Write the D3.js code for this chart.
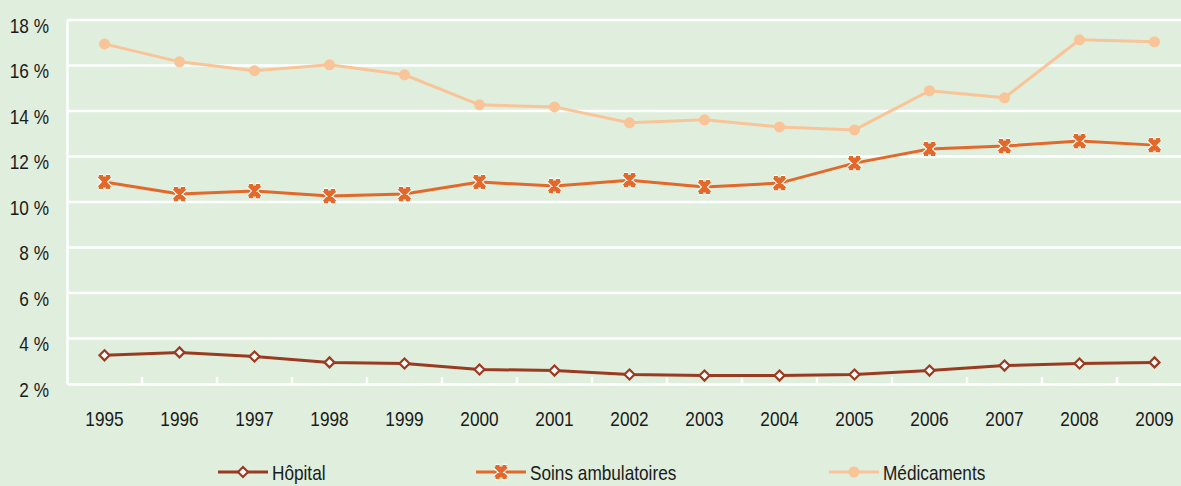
<!DOCTYPE html>
<html><head><meta charset="utf-8">
<script src="https://cdn.jsdelivr.net/npm/d3@7"></script>
<style>
body{margin:0;background:#dfeedd;overflow:hidden}
text{font-family:"Liberation Sans",Arial,sans-serif;fill:#1a1a1a}
</style></head><body>
<svg id="c" width="1181" height="486"></svg>
<script>
const years = ["1995","1996","1997","1998","1999","2000","2001","2002","2003","2004","2005","2006","2007","2008","2009"];
const hopital = [3.26,3.39,3.21,2.95,2.9,2.64,2.59,2.42,2.37,2.37,2.42,2.59,2.81,2.9,2.95];
const soins = [10.88,10.35,10.48,10.26,10.35,10.88,10.7,10.96,10.66,10.83,11.71,12.33,12.46,12.68,12.5];
const medicaments = [16.95,16.16,15.77,16.03,15.59,14.27,14.18,13.48,13.61,13.3,13.17,14.89,14.58,17.13,17.04];
const yTicks = [2,4,6,8,10,12,14,16,18];
const seriesNames = ["Hôpital","Soins ambulatoires","Médicaments"];

(function(){
const SX = 0.82, FS = 21;
const svg = d3.select("#c");
svg.append("rect").attr("width",1181).attr("height",486).attr("fill","#dfeedd");
const pl=67, pr=1192, pt=20, pb=384;
const x = d3.scaleBand().domain(years).range([pl,pr]);
const y = d3.scaleLinear().domain([2,18]).range([pb,pt]);

function condense(sel){
  sel.each(function(){
    const t=d3.select(this);
    const xv=+(t.attr("x")||0);
    t.attr("x",xv/SX).attr("transform",`scale(${SX},1)`).attr("font-size",FS).attr("fill","#1a1a1a");
  });
}

svg.append("g").selectAll("line").data(yTicks.slice(1)).join("line")
  .attr("x1",pl).attr("x2",pr).attr("y1",d=>y(d)).attr("y2",d=>y(d))
  .attr("stroke","#fff").attr("stroke-width",2.5);

const ya = svg.append("g").attr("transform",`translate(${pl},0)`)
  .call(d3.axisLeft(y).tickValues(yTicks).tickSize(0).tickPadding(18).tickFormat(d=>d+" %"));
ya.attr("font-family",null).attr("font-size",null);
ya.select(".domain").attr("stroke","#fff").attr("stroke-width",2.5);
ya.selectAll("text").attr("dy","0.58em");
condense(ya.selectAll("text"));

const xa = svg.append("g").attr("transform",`translate(0,${pb})`)
  .call(d3.axisBottom(x).tickSize(0).tickPadding(26));
xa.attr("font-family",null).attr("font-size",null);
xa.select(".domain").attr("stroke","#fff").attr("stroke-width",2.5);
xa.selectAll("text").attr("y",27);
condense(xa.selectAll("text"));
svg.append("g").selectAll("line").data(years.slice(1)).join("line")
  .attr("x1",d=>x(d)).attr("x2",d=>x(d)).attr("y1",pb).attr("y2",pb-7)
  .attr("stroke","#fff").attr("stroke-width",2.5);

const cx = d=>x(d)+x.bandwidth()/2;
const line = d3.line().x((d,i)=>cx(years[i])).y(d=>y(d));
const cols = ["#9a3b21","#e2692a","#f9c497"];

function diamond(g,px,py){
  g.append("path").attr("d",`M${px},${py-5}L${px+5},${py}L${px},${py+5}L${px-5},${py}Z`)
   .attr("fill","#fff").attr("stroke",cols[0]).attr("stroke-width",2.2);
}
function star(g,px,py){
  const s=5.5;
  const p=`M${px-s},${py-s}L${px+s},${py+s}M${px+s},${py-s}L${px-s},${py+s}M${px},${py-s}L${px},${py+s}M${px-s},${py-s}L${px-s+4},${py-s}M${px+s},${py-s}L${px+s-4},${py-s}M${px-s},${py+s}L${px-s+4},${py+s}M${px+s},${py+s}L${px+s-4},${py+s}`;
  g.append("path").attr("d",p).attr("stroke","#fff").attr("stroke-width",5.5).attr("fill","none");
  g.append("path").attr("d",p).attr("stroke",cols[1]).attr("stroke-width",3.2).attr("fill","none");
}
function dot(g,px,py){
  g.append("circle").attr("cx",px).attr("cy",py).attr("r",5.5).attr("fill",cols[2]);
}
const markers=[diamond,star,dot];
const data=[hopital,soins,medicaments];

data.forEach((arr,k)=>{
  const g = svg.append("g");
  g.append("path").datum(arr).attr("d",line).attr("fill","none").attr("stroke",cols[k]).attr("stroke-width",3);
  arr.forEach((v,i)=>markers[k](g,cx(years[i]),y(v)));
});

const legX=[218,476,829];
const legY=472;
seriesNames.forEach((n,k)=>{
  const g=svg.append("g");
  g.append("line").attr("x1",legX[k]).attr("x2",legX[k]+50).attr("y1",legY).attr("y2",legY)
   .attr("stroke",cols[k]).attr("stroke-width",3);
  markers[k](g,legX[k]+25,legY);
  const t=g.append("text").attr("x",legX[k]+54).attr("y",legY+8.5).text(n);
  condense(t);
});
})();
</script></body></html>
